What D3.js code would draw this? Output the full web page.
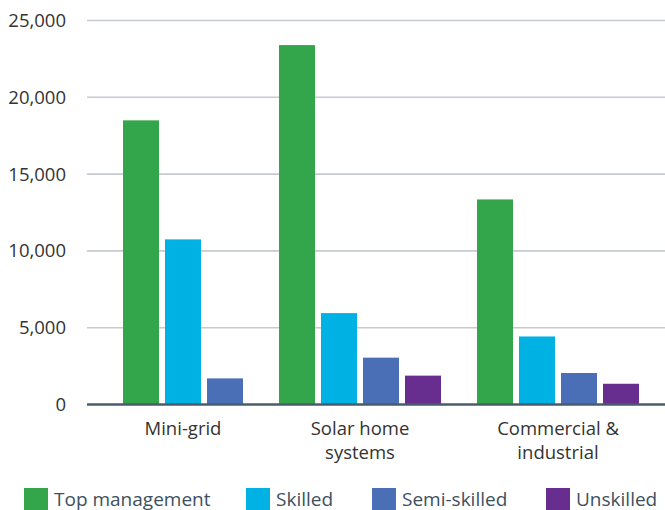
<!DOCTYPE html>
<html>
<head>
<meta charset="utf-8">
<script src="https://cdn.jsdelivr.net/npm/d3@7/dist/d3.min.js"></script>
<style>
  html, body { margin: 0; padding: 0; background: #ffffff; }
  svg { display: block; font-family: "Open Sans", "Noto Sans", sans-serif; }
</style>
</head>
<body>
<svg id="chart" width="665" height="510"></svg>
<script>
// Jobs by segment and skill level
const categories = ["Mini-grid", "Solar home systems", "Commercial & industrial"];
const categoryLines = [["Mini-grid"], ["Solar home", "systems"], ["Commercial &", "industrial"]];
const seriesNames = ["Top management", "Skilled", "Semi-skilled", "Unskilled"];
const topManagement = [18500, 23400, 13350];
const skilled = [10750, 5950, 4430];
const semiSkilled = [1700, 3050, 2050];
const unskilled = [null, 1880, 1350];
const yTicks = [0, 5000, 10000, 15000, 20000, 25000];
const seriesColors = ["#33a64b", "#00b2e3", "#4a6fb6", "#672d8f"];

const seriesValues = [topManagement, skilled, semiSkilled, unskilled];

const plotLeft = 87, plotRight = 665;
const svg = d3.select("#chart");

const y = d3.scaleLinear().domain([0, 25000]).range([404.5, 20.5]);

// Horizontal layout in units: bar = 6, gap between bars = 1, padding each side of a group = 3
const BAR = 6, GAP = 1, PAD = 3;
const groups = categories.map((c, i) => {
  const bars = seriesNames
    .map((s, j) => ({ series: s, j, value: seriesValues[j][i] }))
    .filter(d => d.value != null);
  return { name: c, lines: categoryLines[i], bars };
});
let cursor = 0;
groups.forEach(g => {
  g.start = cursor;
  g.width = PAD * 2 + g.bars.length * BAR + (g.bars.length - 1) * GAP;
  g.bars.forEach((b, k) => { b.u = cursor + PAD + k * (BAR + GAP); });
  g.center = cursor + g.width / 2;
  cursor += g.width;
});
const x = d3.scaleLinear().domain([0, cursor]).range([105, 105 + cursor * 6]);

// Gridlines
svg.append("g")
  .selectAll("line")
  .data(yTicks.filter(t => t !== 0))
  .join("line")
  .attr("x1", plotLeft).attr("x2", plotRight)
  .attr("y1", d => y(d)).attr("y2", d => y(d))
  .attr("stroke", "#c5cad3").attr("stroke-width", 1.6);

// Y tick labels
const fmt = d3.format(",");
svg.append("g")
  .selectAll("text")
  .data(yTicks)
  .join("text")
  .attr("x", 66).attr("y", d => y(d))
  .attr("dy", "0.35em")
  .attr("text-anchor", "end")
  .attr("font-size", 18.5)
  .attr("fill", "#333333")
  .text(d => fmt(d));

// Bars
const barData = groups.flatMap(g => g.bars);
svg.append("g")
  .selectAll("rect")
  .data(barData)
  .join("rect")
  .attr("x", d => x(d.u))
  .attr("width", d => x(d.u + BAR) - x(d.u))
  .attr("y", d => y(d.value))
  .attr("height", d => y(0) - y(d.value))
  .attr("fill", d => seriesColors[d.j]);

// Baseline
svg.append("line")
  .attr("x1", plotLeft).attr("x2", plotRight)
  .attr("y1", y(0)).attr("y2", y(0))
  .attr("stroke", "#485c6d").attr("stroke-width", 2.5);

// Category labels
const catText = svg.append("g")
  .selectAll("text")
  .data(groups)
  .join("text")
  .attr("x", d => x(d.center))
  .attr("y", 435)
  .attr("text-anchor", "middle")
  .attr("font-size", 18.5)
  .attr("fill", "#333333");
catText.selectAll("tspan")
  .data(d => d.lines.map(l => ({ l, cx: x(d.center) })))
  .join("tspan")
  .attr("x", d => d.cx)
  .attr("dy", (d, i) => i === 0 ? 0 : 24)
  .text(d => d.l);

// Legend: swatch + label per series
const legendX = [24, 246, 372, 546];
const legend = svg.append("g")
  .selectAll("g")
  .data(seriesNames)
  .join("g")
  .attr("transform", (d, j) => `translate(${legendX[j]},0)`);
legend.append("rect")
  .attr("x", 0).attr("y", 488)
  .attr("width", 24).attr("height", 23)
  .attr("fill", (d, j) => seriesColors[j]);
legend.append("text")
  .attr("x", 30).attr("y", 505.5)
  .attr("font-size", 19)
  .attr("fill", "#3d5060")
  .text(d => d);
</script>
</body>
</html>
